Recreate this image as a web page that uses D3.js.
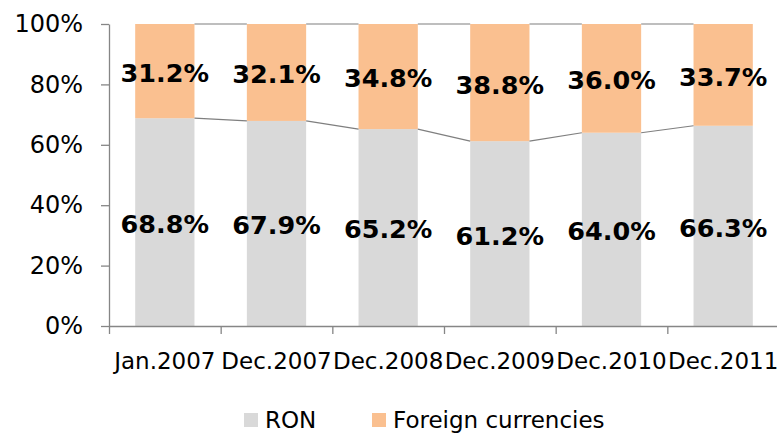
<!DOCTYPE html>
<html>
  <head>
    <script src="https://d3js.org/d3.v7.min.js"></script>
    <style>
body { margin: 0; background: #fff; }
svg { display: block; font-family: "DejaVu Sans", Verdana, sans-serif; }
    </style>
  </head>
  <body>
    <script>
var categories = ["Jan.2007", "Dec.2007", "Dec.2008", "Dec.2009", "Dec.2010", "Dec.2011"];
var ron = [68.8, 67.9, 65.2, 61.2, 64.0, 66.3];
var foreign = [31.2, 32.1, 34.8, 38.8, 36.0, 33.7];
var yTicks = [0, 20, 40, 60, 80, 100];
var seriesNames = ["RON", "Foreign currencies"];
var colors = ["#d9d9d9", "#fac090"];

var W = 777, H = 434;
var plotLeft = 109, plotRight = 779, plotTop = 24, plotBottom = 326;

var svg = d3.select("body").append("svg").attr("width", W).attr("height", H);

var x = d3.scaleBand().domain(categories).range([plotLeft, plotRight]).paddingInner(0.469).paddingOuter(0.2345);
var xb = d3.scaleLinear().domain([0, categories.length]).range([plotLeft, plotRight]);
var y = d3.scaleLinear().domain([0, 100]).range([plotBottom, plotTop]);

var data = categories.map(function (c, i) {
	return { cat: c, ron: ron[i], foreign: foreign[i] };
});

// stacked bars
var g = svg.append("g");
g.selectAll("rect.ron").data(data).enter().append("rect")
	.attr("x", function (d) { return x(d.cat); })
	.attr("y", function (d) { return y(d.ron); })
	.attr("width", x.bandwidth())
	.attr("height", function (d) { return y(0) - y(d.ron); })
	.style("fill", colors[0]);
g.selectAll("rect.fx").data(data).enter().append("rect")
	.attr("x", function (d) { return x(d.cat); })
	.attr("y", function (d) { return y(d.ron + d.foreign); })
	.attr("width", x.bandwidth())
	.attr("height", function (d) { return y(d.ron) - y(d.ron + d.foreign); })
	.style("fill", colors[1]);

// series lines between bars
function seriesLine(val) {
	for (var i = 0; i < data.length - 1; i++) {
		svg.append("line")
			.attr("x1", x(data[i].cat) + x.bandwidth()).attr("y1", y(val(data[i])))
			.attr("x2", x(data[i + 1].cat)).attr("y2", y(val(data[i + 1])))
			.style("stroke", "#7f7f7f").style("stroke-width", 1.2);
	}
}
seriesLine(function (d) { return d.ron; });
seriesLine(function (d) { return d.ron + d.foreign; });

// axes
var yAxis = svg.append("g").attr("transform", "translate(" + plotLeft + ",0)")
	.call(d3.axisLeft(y).tickValues(yTicks).tickSize(8).tickSizeOuter(0).tickPadding(18)
		.tickFormat(function (d) { return d + "%"; }));
yAxis.attr("font-family", null).attr("font-size", null);
yAxis.selectAll("text").style("font-size", "24px").style("fill", "#000");
yAxis.selectAll("line,path").style("stroke", "#868686").style("stroke-width", 1.3);

var xAxis = svg.append("g").attr("transform", "translate(0," + plotBottom + ")")
	.call(d3.axisBottom(xb).tickValues(d3.range(categories.length + 1)).tickSize(8).tickSizeOuter(0).tickFormat(""));
xAxis.selectAll("line,path").style("stroke", "#868686").style("stroke-width", 1.3);

svg.selectAll("text.cat").data(categories).enter().append("text")
	.attr("x", function (d) { return x(d) + x.bandwidth() / 2; })
	.attr("y", 361)
	.attr("dy", "0.35em")
	.attr("text-anchor", "middle")
	.style("font-size", "23px")
	.text(function (d) { return d; });

// value labels
function labels(getMid, getVal) {
	svg.append("g").selectAll("text").data(data).enter().append("text")
		.attr("x", function (d) { return x(d.cat) + x.bandwidth() / 2; })
		.attr("y", function (d) { return y(getMid(d)) + 2; })
		.attr("dy", "0.35em")
		.attr("text-anchor", "middle")
		.style("font-size", "25.5px")
		.style("font-weight", "bold")
		.text(function (d) { return getVal(d).toFixed(1) + "%"; });
}
labels(function (d) { return d.ron / 2; }, function (d) { return d.ron; });
labels(function (d) { return d.ron + d.foreign / 2; }, function (d) { return d.foreign; });

// legend
var legX = [244, 372];
var leg = svg.append("g");
seriesNames.forEach(function (n, i) {
	leg.append("rect").attr("x", legX[i]).attr("y", 413).attr("width", 14).attr("height", 14).style("fill", colors[i]);
	leg.append("text").attr("x", legX[i] + 21).attr("y", 420).attr("dy", "0.35em")
		.style("font-size", "23px").text(n);
});
    </script>
  </body>
</html>
